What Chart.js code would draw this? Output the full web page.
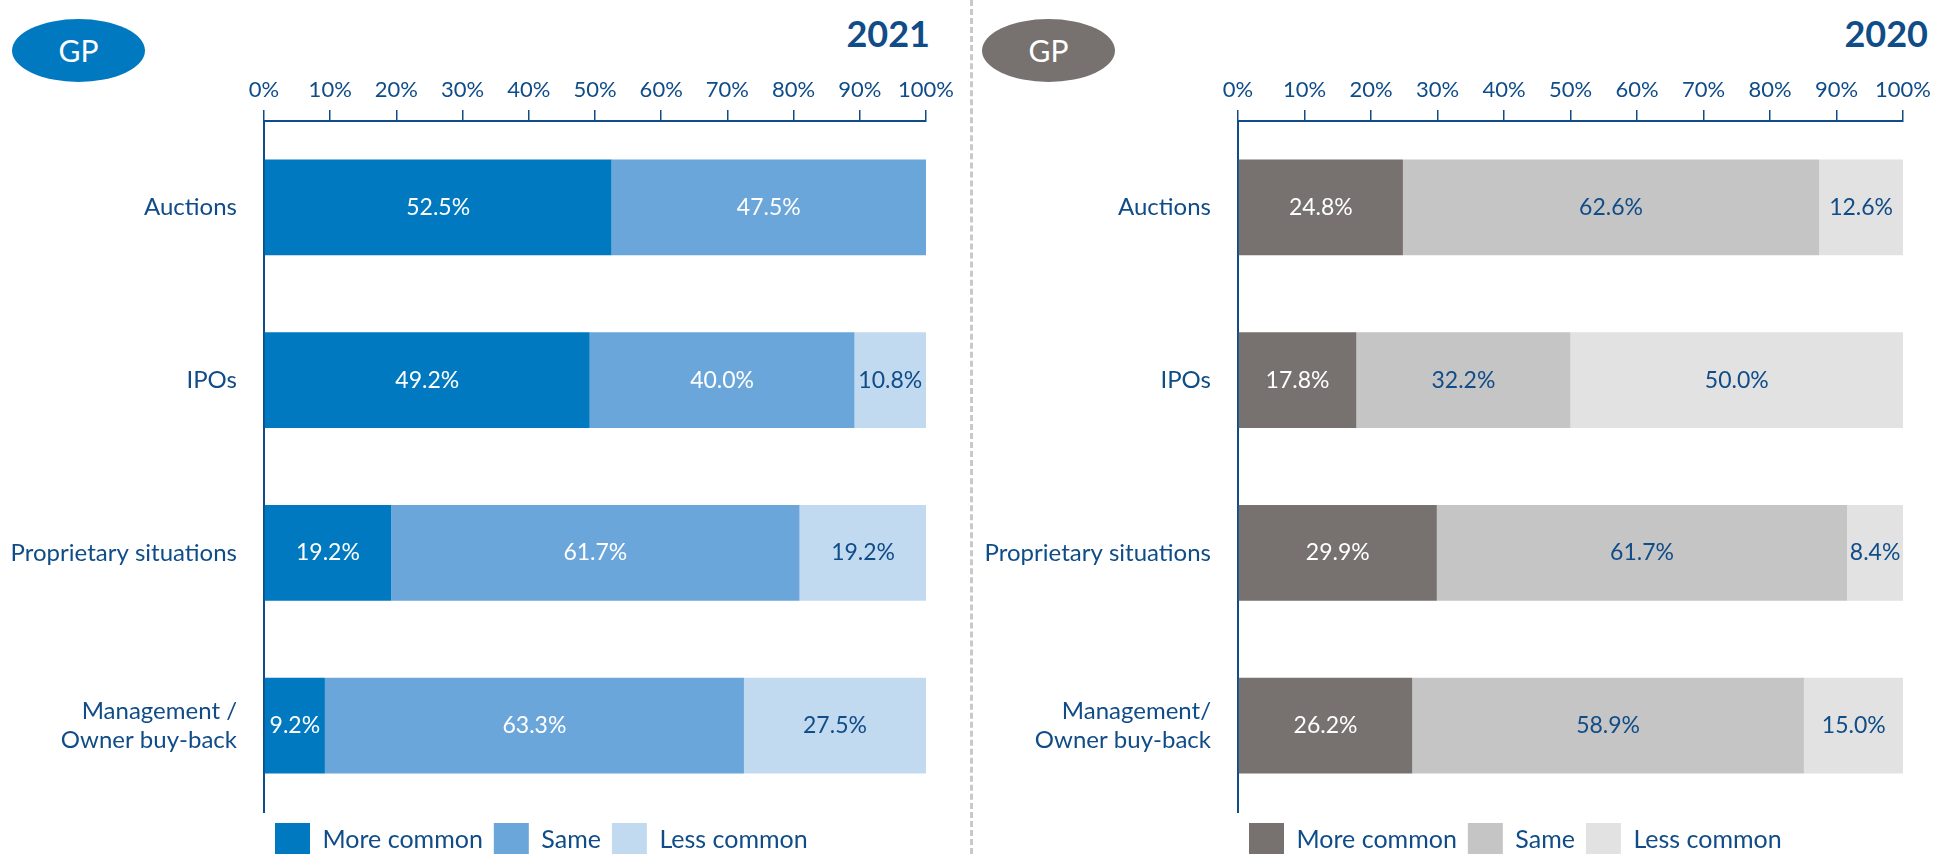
<!DOCTYPE html>
<html>
<head>
<meta charset="utf-8">
<script src="https://cdn.jsdelivr.net/npm/chart.js@4.4.1/dist/chart.umd.min.js"></script>
<style>
  body { margin: 0; background: #fff; font-family: Lato, sans-serif; }
  #page { position: relative; width: 1949px; height: 854px; overflow: hidden; }
  .box { position: absolute; top: 0; height: 854px; }
  .badge { position: absolute; top: 19px; width: 133px; height: 63px; border-radius: 50%;
    color: #fff; font-size: 30px; text-align: center; line-height: 63px; }
  .year { position: absolute; top: 11px; font-size: 36px; font-weight: bold; color: #0f4c88; }
  #sep { position: absolute; left: 970px; top: 0; width: 0; height: 854px;
    border-left: 3px dashed #c9c9c9; }
</style>
</head>
<body>
<div id="page">
  <div class="badge" style="left:12px;background:#0079c1;">GP</div>
  <div class="year" style="right:1019px;">2021</div>
  <div class="badge" style="left:982px;background:#77716f;">GP</div>
  <div class="year" style="right:21px;">2020</div>
  <div id="sep"></div>
  <div class="box" style="left:0;width:970px;"><canvas id="chart2021"></canvas></div>
  <div class="box" style="left:970px;width:979px;"><canvas id="chart2020"></canvas></div>
</div>
<script>
var categories2021 = [['Auctions'], ['IPOs'], ['Proprietary situations'], ['Management /', 'Owner buy-back']];
var categories2020 = [['Auctions'], ['IPOs'], ['Proprietary situations'], ['Management/', 'Owner buy-back']];
var seriesNames = ['More common', 'Same', 'Less common'];

var more2021 = [52.5, 49.2, 19.2, 9.2];
var same2021 = [47.5, 40.0, 61.7, 63.3];
var less2021 = [0, 10.8, 19.2, 27.5];

var more2020 = [24.8, 17.8, 29.9, 26.2];
var same2020 = [62.6, 32.2, 61.7, 58.9];
var less2020 = [12.6, 50.0, 8.4, 15.0];

var navy = '#0f4c88';
var fontName = 'Lato';

// values written in the middle of each bar piece
var barLabels = {
    id: 'barLabels',
    afterDatasetsDraw(chart) {
        var ctx = chart.ctx;
        ctx.save();
        ctx.font = '23px ' + fontName;
        ctx.textAlign = 'center';
        ctx.textBaseline = 'middle';
        chart.data.datasets.forEach(function (ds, i) {
            var meta = chart.getDatasetMeta(i);
            meta.data.forEach(function (bar, j) {
                var v = ds.data[j];
                if (!v) return;
                var p = bar.getProps(['x', 'y', 'base'], true);
                ctx.fillStyle = ds.labelColor;
                ctx.fillText(v.toFixed(1) + '%', (p.x + p.base) / 2, p.y);
            });
        });
        ctx.restore();
    }
};

function makeChart(id, cats, more, same, less, colors, labelColors, leftW, rightPad) {
    var ctx = document.getElementById(id).getContext('2d');
    return new Chart(ctx, {
        type: 'bar',
        data: {
            labels: cats,
            datasets: [
                { label: seriesNames[0], data: more, backgroundColor: colors[0], labelColor: labelColors[0] },
                { label: seriesNames[1], data: same, backgroundColor: colors[1], labelColor: labelColors[1] },
                { label: seriesNames[2], data: less, backgroundColor: colors[2], labelColor: labelColors[2] }
            ]
        },
        options: {
            indexAxis: 'y',
            responsive: true,
            maintainAspectRatio: false,
            animation: false,
            devicePixelRatio: 1,
            layout: { padding: { top: 0, left: 0, right: rightPad, bottom: -13 } },
            datasets: { bar: { categoryPercentage: 1, barPercentage: 0.555, borderWidth: 0 } },
            scales: {
                x: {
                    position: 'top',
                    stacked: true,
                    min: 0,
                    max: 100,
                    ticks: {
                        stepSize: 10,
                        color: navy,
                        padding: 7,
                        font: { family: fontName, size: 22 },
                        callback: function (v) { return v + '%'; }
                    },
                    grid: { drawOnChartArea: false, tickLength: 11, color: navy, lineWidth: 1.5 },
                    border: { color: navy, width: 2 },
                    afterFit: function (s) { s.height = 121; }
                },
                y: {
                    stacked: true,
                    ticks: {
                        color: navy,
                        padding: 19,
                        font: { family: fontName, size: 24 }
                    },
                    grid: { display: false },
                    border: { color: navy, width: 2 },
                    afterFit: function (s) { s.width = leftW; }
                }
            },
            plugins: {
                legend: {
                    position: 'bottom',
                    align: 'start',
                    fullSize: false,
                    labels: {
                        boxWidth: 35,
                        boxHeight: 34,
                        padding: 11,
                        color: navy,
                        font: { family: fontName, size: 25 }
                    }
                },
                tooltip: { enabled: false }
            }
        },
        plugins: [barLabels]
    });
}

makeChart('chart2021', categories2021, more2021, same2021, less2021,
    ['#0079c1', '#6ba6db', '#c2daf0'], ['#ffffff', '#ffffff', navy], 264, 44);
makeChart('chart2020', categories2020, more2020, same2020, less2020,
    ['#77716f', '#c6c5c6', '#e3e2e3'], ['#ffffff', navy, navy], 268, 46);
</script>
</body>
</html>
